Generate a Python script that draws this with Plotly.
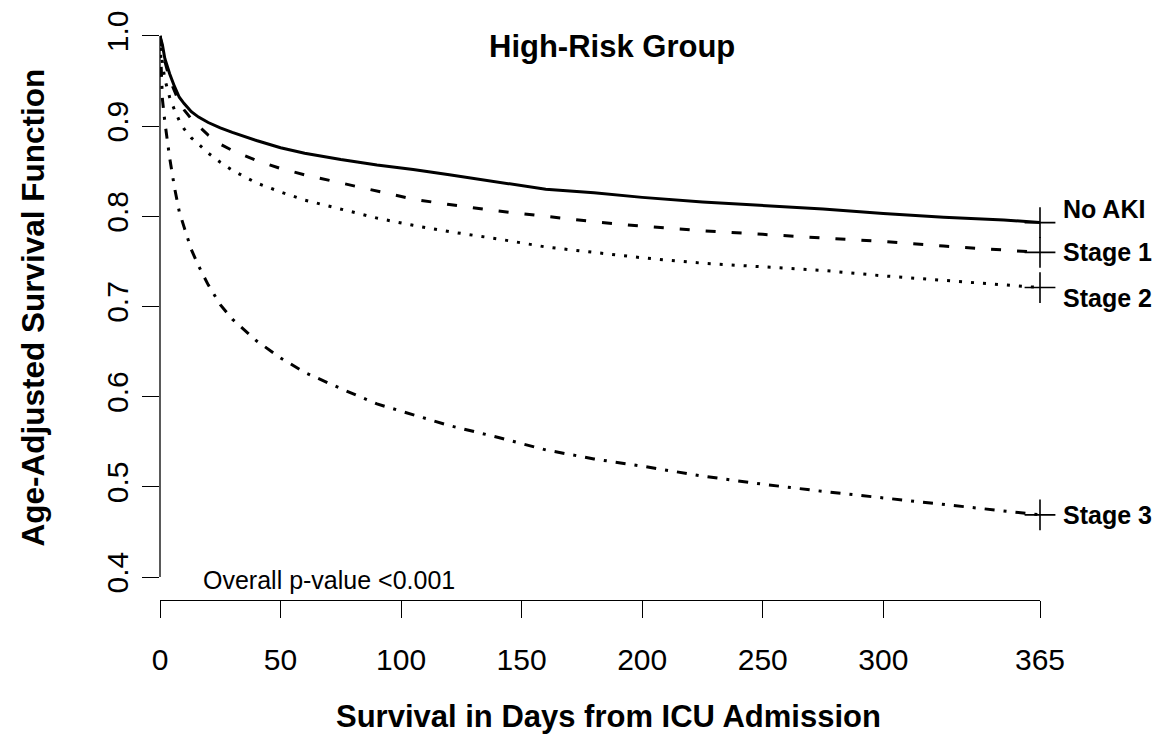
import plotly.graph_objects as go

# ---- data ----
days = [0, 1, 2, 4, 6, 8, 10, 13, 16, 20, 25, 30, 40, 50, 60, 75, 90, 105, 120,
        140, 160, 180, 200, 225, 250, 275, 300, 325, 350, 365]
no_aki = [1.000, 0.990, 0.975, 0.958, 0.944, 0.932, 0.925, 0.916, 0.910, 0.904,
          0.898, 0.893, 0.884, 0.876, 0.870, 0.863, 0.857, 0.852, 0.846, 0.838,
          0.830, 0.826, 0.821, 0.816, 0.812, 0.808, 0.803, 0.799, 0.796, 0.793]
stage1 = [1.000, 0.985, 0.972, 0.952, 0.938, 0.926, 0.918, 0.908, 0.900, 0.890,
          0.880, 0.873, 0.862, 0.853, 0.846, 0.837, 0.828, 0.819, 0.813, 0.806,
          0.800, 0.794, 0.789, 0.784, 0.780, 0.776, 0.772, 0.767, 0.763, 0.760]
stage2 = [1.000, 0.970, 0.952, 0.932, 0.918, 0.906, 0.897, 0.887, 0.880, 0.870,
          0.860, 0.851, 0.837, 0.827, 0.818, 0.808, 0.798, 0.790, 0.783, 0.775,
          0.766, 0.760, 0.754, 0.748, 0.744, 0.740, 0.734, 0.729, 0.724, 0.721]
stage3 = [1.000, 0.930, 0.905, 0.865, 0.832, 0.805, 0.788, 0.763, 0.745, 0.724,
          0.702, 0.686, 0.662, 0.643, 0.627, 0.609, 0.592, 0.580, 0.568, 0.555,
          0.541, 0.531, 0.523, 0.512, 0.503, 0.495, 0.488, 0.481, 0.474, 0.469]

series_names = ["No AKI", "Stage 1", "Stage 2", "Stage 3"]
series_values = [no_aki, stage1, stage2, stage3]
x_ticks = [0, 50, 100, 150, 200, 250, 300, 365]
y_ticks = [0.4, 0.5, 0.6, 0.7, 0.8, 0.9, 1.0]
y_tick_text = ["0.4", "0.5", "0.6", "0.7", "0.8", "0.9", "1.0"]

# ---- styles ----
dashes = ["solid", "10px,16px", "3px,9px", "10px,9px,3px,9px"]
label_shift = [14, 0, -10, 0]
FONT = "Liberation Sans, Arial, sans-serif"

fig = go.Figure()
for name, vals, dash in zip(series_names, series_values, dashes):
    fig.add_trace(go.Scatter(x=days, y=vals, mode="lines", name=name,
                             line=dict(color="black", width=3, dash=dash),
                             showlegend=False))
    fig.add_trace(go.Scatter(x=[days[-1]], y=[vals[-1]], mode="markers",
                             marker=dict(symbol="cross-thin", size=22,
                                         line=dict(color="black", width=1.6)),
                             cliponaxis=False, showlegend=False))

for name, vals, sh in zip(series_names, series_values, label_shift):
    fig.add_annotation(x=days[-1], y=vals[-1], xref="x", yref="y", text=name,
                       showarrow=False, xanchor="left", yanchor="middle",
                       xshift=21, yshift=sh,
                       font=dict(family=FONT, size=25, color="black", weight="bold"))

# y axis line (only between first and last tick, R-style)
fig.add_shape(type="line", xref="paper", yref="y", x0=0, x1=0,
              y0=y_ticks[0], y1=y_ticks[-1], line=dict(color="black", width=1.3))

fig.add_annotation(xref="paper", yref="paper", x=0.5136, y=0.944, text="High-Risk Group",
                   showarrow=False, xanchor="center", yanchor="middle",
                   font=dict(family=FONT, size=31, color="black", weight="bold"))
fig.add_annotation(xref="paper", yref="paper", x=0.510, y=-0.1986,
                   text="Survival in Days from ICU Admission",
                   showarrow=False, xanchor="center", yanchor="middle",
                   font=dict(family=FONT, size=31, color="black", weight="bold"))
fig.add_annotation(xref="paper", yref="paper", x=-0.1443, y=0.499,
                   text="Age-Adjusted Survival Function", textangle=-90,
                   showarrow=False, xanchor="center", yanchor="middle",
                   font=dict(family=FONT, size=31.5, color="black", weight="bold"))
fig.add_annotation(xref="paper", yref="paper", x=0.0466, y=0.034,
                   text="Overall p-value <0.001",
                   showarrow=False, xanchor="left", yanchor="middle",
                   font=dict(family=FONT, size=25, color="black"))

fig.update_layout(
    width=1157, height=729,
    margin=dict(l=152, r=125, t=3, b=137),
    paper_bgcolor="white", plot_bgcolor="white",
    xaxis=dict(range=[0, 365], tickvals=x_ticks, ticktext=[str(t) for t in x_ticks],
               showline=True, linecolor="black", linewidth=1.3,
               ticks="outside", ticklen=17, tickwidth=1.3, tickcolor="black",
               tickfont=dict(family=FONT, size=30, color="black"),
               ticklabelstandoff=16, ticklabeloverflow="allow",
               showgrid=False, zeroline=False),
    yaxis=dict(range=[0.3746, 1.0243], tickvals=y_ticks, ticktext=y_tick_text,
               showline=False, ticks="outside", ticklen=17, tickwidth=1.3,
               tickcolor="black", tickangle=-90,
               tickfont=dict(family=FONT, size=30, color="black"),
               ticklabelstandoff=2, ticklabeloverflow="allow",
               showgrid=False, zeroline=False),
)

fig.write_html("out.html")
